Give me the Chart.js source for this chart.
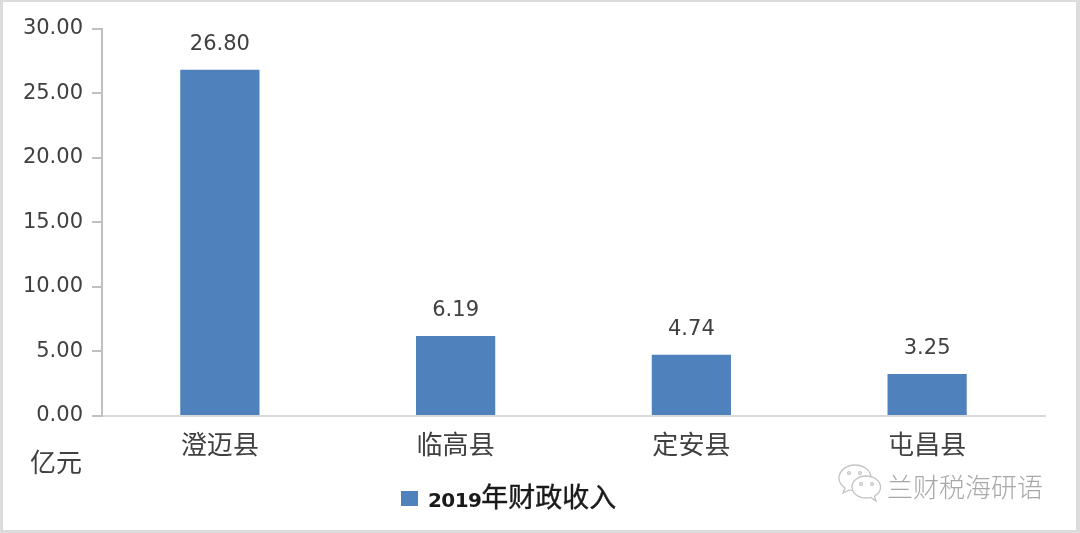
<!DOCTYPE html>
<html lang="zh">
<head>
<meta charset="utf-8">
<title>2019年财政收入</title>
<script src="https://cdn.jsdelivr.net/npm/chart.js@4"></script>
<style>
  html, body { margin: 0; padding: 0; background: #fff; }
  #page { position: absolute; left: 0; top: 0; width: 1080px; height: 533px; overflow: hidden; filter: blur(0.4px); }
  #frame {
    position: absolute; left: 0; top: 0; width: 1080px; height: 533px;
    box-sizing: border-box; overflow: hidden;
    border-style: solid; border-color: #dcdcdc;
    border-width: 2px 4px 3px 3px;
  }
  #chart { position: absolute; left: 0; top: 0; }
  .note { position: absolute; white-space: nowrap; font-family: "Noto Sans CJK SC", sans-serif; }
  #unit { left: 30px; top: 443px; font-size: 26px; line-height: 36px; color: #404040; }
  #legend { left: 401px; top: 478px; line-height: 36px; color: #1a1a1a; font-weight: 700; }
  #legend i { display: inline-block; width: 17px; height: 15px; background: #4f81bd; margin-right: 10px; vertical-align: 1px; }
  #legend b { font: 700 20px "DejaVu Sans", sans-serif; letter-spacing: -0.6px; }
  #legend span { font-size: 27px; font-weight: 400; -webkit-text-stroke: 0.4px #1a1a1a; }
  #mark { left: 887px; top: 468px; font-size: 26px; line-height: 36px; color: #a8a8a8; font-weight: 300; }
  #icon { position: absolute; left: 836px; top: 463px; }
</style>
</head>
<body>
<div id="page">
<canvas id="chart" width="1080" height="533"></canvas>
<div id="frame"></div>
<div class="note" id="unit">亿元</div>
<div class="note" id="legend"></div>
<div class="note" id="mark">兰财税海研语</div>
<svg id="icon" width="48" height="42" viewBox="0 0 48 42" fill="#fff" stroke="#c4c4c4" stroke-width="1.3">
  <path d="M19 2c-9 0-16 6-16 13 0 4 2 7 6 10l-2 5 6-3c2 .6 4 .8 6 .8 9 0 16-6 16-13S28 2 19 2z"/>
  <path d="M30 13c-8 0-14 5-14 11s6 11 14 11c2 0 3 0 5-.6l5 3.6-1.500-5c4-2 6-5.500 6-9 0-6-6.500-11-14.500-11z"/>
  <circle cx="13" cy="10" r="1.400"/><circle cx="24" cy="10" r="1.400"/>
  <circle cx="25" cy="21" r="1.400"/><circle cx="36" cy="21" r="1.400"/>
</svg>
</div>
<script>
const categories = ["澄迈县", "临高县", "定安县", "屯昌县"];
const revenue = [26.8, 6.19, 4.74, 3.25];
const seriesYear = "2019";
const seriesName = "年财政收入";
const BAR_COLOR = "#4f81bd";
const TEXT_COLOR = "#404040";
const NUM_FONT = '"DejaVu Sans", sans-serif';
const CJK_FONT = '"Noto Sans CJK SC", sans-serif';

document.getElementById("legend").innerHTML =
  `<i></i><b>${seriesYear}</b><span>${seriesName}</span>`;

// value labels above the bars
const barValues = {
  id: "barValues",
  afterDatasetsDraw(chart) {
    const { ctx } = chart;
    ctx.save();
    ctx.font = `21px ${NUM_FONT}`;
    ctx.fillStyle = TEXT_COLOR;
    ctx.textAlign = "center";
    ctx.textBaseline = "middle";
    chart.getDatasetMeta(0).data.forEach((bar, i) => {
      ctx.fillText(revenue[i].toFixed(2), bar.x, bar.y - 25);
    });
    ctx.restore();
  },
};

new Chart(document.getElementById("chart"), {
  type: "bar",
  data: {
    labels: categories,
    datasets: [
      {
        label: seriesYear + seriesName,
        data: revenue,
        backgroundColor: BAR_COLOR,
        barPercentage: 0.336,
        categoryPercentage: 1,
      },
    ],
  },
  plugins: [barValues],
  options: {
    responsive: false,
    animation: false,
    layout: { padding: { top: 28.5, right: 35, bottom: 0, left: 0 } },
    plugins: { legend: { display: false }, tooltip: { enabled: false } },
    scales: {
      x: {
        afterFit: (scale) => { scale.height = 117; },
        grid: { display: false },
        border: { color: "#d9d9d9", width: 2 },
        ticks: {
          color: TEXT_COLOR,
          padding: 5,
          font: { family: CJK_FONT, size: 26 },
          maxRotation: 0,
        },
      },
      y: {
        min: 0,
        max: 30,
        afterFit: (scale) => { scale.width = 102; },
        grid: { drawOnChartArea: false, color: "#c0c0c0", tickLength: 10, lineWidth: 2 },
        border: { color: "#c0c0c0", width: 2 },
        ticks: {
          stepSize: 5,
          color: TEXT_COLOR,
          padding: 9,
          font: { family: NUM_FONT, size: 21 },
          callback: (v) => v.toFixed(2),
        },
      },
    },
  },
});
</script>
</body>
</html>
